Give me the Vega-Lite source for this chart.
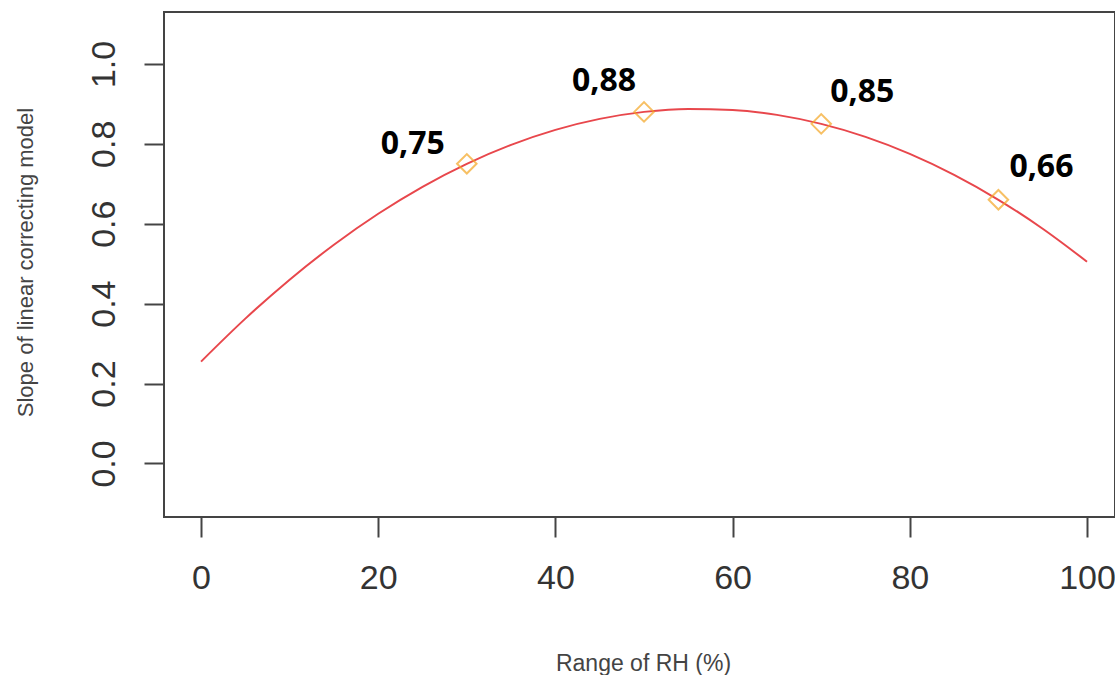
{
  "$schema": "https://vega.github.io/schema/vega-lite/v6.json",
  "width": 951,
  "height": 505,
  "autosize": {"type": "none"},
  "padding": {"left": 164, "top": 12, "right": 0, "bottom": 158},
  "background": "white",
  "config": {
    "view": {"stroke": "#444444", "strokeWidth": 2},
    "axis": {"grid": false, "domain": false, "labelFont": "Liberation Sans", "titleFont": "Liberation Sans", "tickColor": "#444444", "tickWidth": 2, "labelColor": "#333333", "titleColor": "#444444", "titleFontWeight": "normal"}
  },
  "datasets": {
    "curve": [
      {"rh": 0, "slope": 0.255}, {"rh": 5, "slope": 0.3625}, {"rh": 10, "slope": 0.46}, {"rh": 15, "slope": 0.5475},
      {"rh": 20, "slope": 0.625}, {"rh": 25, "slope": 0.6925}, {"rh": 30, "slope": 0.75}, {"rh": 35, "slope": 0.7975},
      {"rh": 40, "slope": 0.835}, {"rh": 45, "slope": 0.8625}, {"rh": 50, "slope": 0.88}, {"rh": 55, "slope": 0.8875},
      {"rh": 60, "slope": 0.885}, {"rh": 65, "slope": 0.8725}, {"rh": 70, "slope": 0.85}, {"rh": 75, "slope": 0.8175},
      {"rh": 80, "slope": 0.775}, {"rh": 85, "slope": 0.7225}, {"rh": 90, "slope": 0.66}, {"rh": 95, "slope": 0.5875},
      {"rh": 100, "slope": 0.505}
    ],
    "points": [
      {"rh": 30, "slope": 0.75, "label": "0,75"},
      {"rh": 50, "slope": 0.88, "label": "0,88"},
      {"rh": 70, "slope": 0.85, "label": "0,85"},
      {"rh": 90, "slope": 0.66, "label": "0,66"}
    ]
  },
  "encoding": {
    "x": {
      "field": "rh", "type": "quantitative",
      "scale": {"domain": [-4.18, 103.16], "nice": false, "zero": false},
      "axis": {"values": [0, 20, 40, 60, 80, 100], "tickSize": 20, "labelFontSize": 34, "labelPadding": 41, "labelBaseline": "middle", "labelFlush": false, "labelOverlap": false,
        "title": "Range of RH (%)", "titleFontSize": 23, "titleX": 479, "titleY": 146, "titleBaseline": "middle", "titleAlign": "center"}
    },
    "y": {
      "field": "slope", "type": "quantitative",
      "scale": {"domain": [-0.134, 1.13], "nice": false, "zero": false},
      "axis": {"values": [0, 0.2, 0.4, 0.6, 0.8, 1.0], "format": ".1f", "tickSize": 20, "labelFontSize": 34, "labelAngle": -90, "labelAlign": "center", "labelBaseline": "middle", "labelPadding": 40, "labelFlush": false, "labelOverlap": false,
        "title": "Slope of linear correcting model", "titleFontSize": 22, "titleX": -139, "titleY": 250, "titleAngle": -90, "titleBaseline": "middle", "titleAlign": "center"}
    }
  },
  "layer": [
    {"data": {"name": "curve"}, "mark": {"type": "line", "color": "#E8474C", "strokeWidth": 2, "interpolate": "monotone"}},
    {"data": {"name": "points"}, "mark": {"type": "point", "shape": "diamond", "filled": false, "color": "#F5A623", "size": 380, "strokeWidth": 2}},
    {"data": {"name": "points"}, "transform": [{"filter": "datum.label == '0,75'"}], "mark": {"type": "text", "font": "Open Sans", "fontWeight": "bold", "fontSize": 32, "color": "#000000", "dx": -54, "dy": -20}, "encoding": {"text": {"field": "label"}}},
    {"data": {"name": "points"}, "transform": [{"filter": "datum.label == '0,88'"}], "mark": {"type": "text", "font": "Open Sans", "fontWeight": "bold", "fontSize": 32, "color": "#000000", "dx": -40, "dy": -31}, "encoding": {"text": {"field": "label"}}},
    {"data": {"name": "points"}, "transform": [{"filter": "datum.label == '0,85'"}], "mark": {"type": "text", "font": "Open Sans", "fontWeight": "bold", "fontSize": 32, "color": "#000000", "dx": 41, "dy": -32}, "encoding": {"text": {"field": "label"}}},
    {"data": {"name": "points"}, "transform": [{"filter": "datum.label == '0,66'"}], "mark": {"type": "text", "font": "Open Sans", "fontWeight": "bold", "fontSize": 32, "color": "#000000", "dx": 43, "dy": -33}, "encoding": {"text": {"field": "label"}}}
  ]
}
